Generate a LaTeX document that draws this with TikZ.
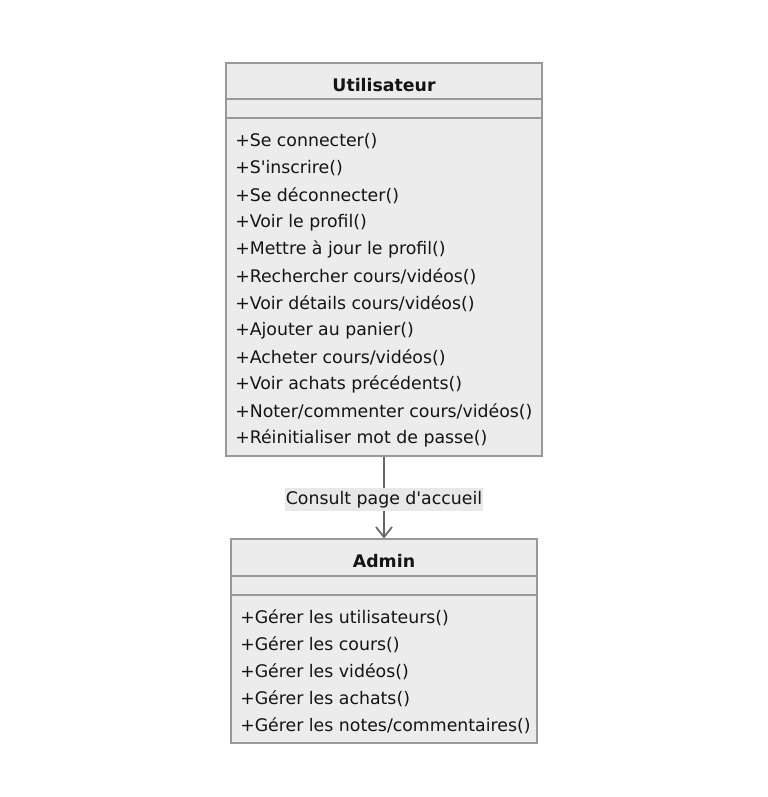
\documentclass[tikz,border=0pt]{standalone}
\usepackage{fontspec}
\setmainfont{DejaVu Sans}
\usetikzlibrary{arrows.meta}
\definecolor{boxfill}{HTML}{ECECEC}
\definecolor{boxline}{HTML}{999999}
\definecolor{linkline}{HTML}{666666}
\definecolor{labelfill}{HTML}{E8E8E8}
\definecolor{txt}{HTML}{141414}

\begin{document}
\begin{tikzpicture}[x=0.75pt,y=-0.75pt]
\tikzset{classbox/.style={draw=boxline,fill=boxfill,line width=0.9pt,inner sep=0pt,anchor=center}}
\tikzset{classname/.style={font=\fontsize{13}{15}\selectfont\bfseries,text=txt,anchor=center}}
\tikzset{method/.style={font=\fontsize{13}{15}\selectfont,text=txt,anchor=west,inner sep=0pt}}
\tikzset{link/.style={draw=linkline,line width=1.3pt,-{Straight Barb[length=7.5pt,width=12pt,line width=1.3pt]}}}
\tikzset{linklabel/.style={fill=labelfill,text=txt,font=\fontsize{13}{15}\selectfont,inner xsep=0.5pt,inner ysep=2.5pt,yshift=-1.5pt}}

\useasboundingbox (0,0) rectangle (768,797);

% Utilisateur
\node[classbox,minimum width=237pt,minimum height=294.75pt] (user) at (384,259.5) {};
\draw[boxline,line width=0.9pt] (226,99) -- (542,99);
\draw[boxline,line width=0.9pt] (226,118) -- (542,118);
\node[classname] (usertitle) at (384,85) {Utilisateur};
\foreach \m [count=\i from 0] in {+Se connecter(),+S\textquotesingle inscrire(),+Se déconnecter(),+Voir le profil(),
  +Mettre à jour le profil(),+Rechercher cours/vidéos(),+Voir détails cours/vidéos(),
  +Ajouter au panier(),+Acheter cours/vidéos(),+Voir achats précédents(),
  +Noter/commenter cours/vidéos(),+Réinitialiser mot de passe()} {
  \node[method] (usermeth\i) at (235,141.5+27*\i) {\m};
}

% Admin
\node[classbox,minimum width=229.5pt,minimum height=153pt] (admin) at (384,641) {};
\draw[boxline,line width=0.9pt] (231,576) -- (537,576);
\draw[boxline,line width=0.9pt] (231,595) -- (537,595);
\node[classname] (admintitle) at (384,561) {Admin};
\foreach \m [count=\i from 0] in {+Gérer les utilisateurs(),+Gérer les cours(),+Gérer les vidéos(),
  +Gérer les achats(),+Gérer les notes/commentaires()} {
  \node[method] (adminmeth\i) at (240,617.5+27*\i) {\m};
}

\draw[link] (user.south) -- node[linklabel] (linktext) {Consult page d\textquotesingle accueil} (admin.north);
\end{tikzpicture}
\end{document}
